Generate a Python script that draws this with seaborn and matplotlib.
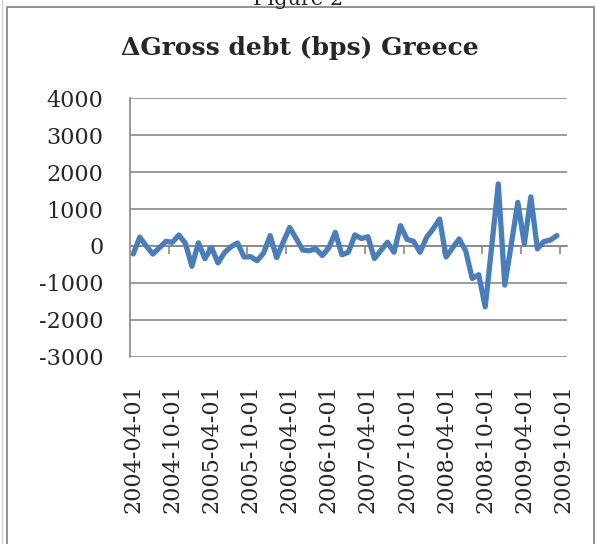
import numpy as np
import pandas as pd
import matplotlib
matplotlib.use("Agg")
import matplotlib.pyplot as plt
from matplotlib.lines import Line2D
import seaborn as sns

# Monthly categories on the horizontal axis (last month has no observation yet)
months = pd.date_range("2004-04-01", "2009-10-01", freq="MS").strftime("%Y-%m-%d").tolist()

# Month-on-month change in Greek gross debt, basis points
delta_debt = [
    -217, 240, 0, -220, -50, 125, 98, 298, 70, -550,
    85, -345, -38, -460, -180, -20, 80, -300, -290, -400,
    -190, 280, -315, 100, 500, 200, -110, -130, -75, -260,
    -50, 370, -240, -170, 300, 200, 250, -340, -120, 100,
    -170, 550, 180, 125, -170, 230, 460, 730, -300, -50,
    190, -130, -880, -780, -1650, 0, 1680, -1060, 50, 1180,
    60, 1330, -80, 120, 160, 280,
]

tick_labels = ["2004-04-01", "2004-10-01", "2005-04-01", "2005-10-01",
               "2006-04-01", "2006-10-01", "2007-04-01", "2007-10-01",
               "2008-04-01", "2008-10-01", "2009-04-01", "2009-10-01"]
y_ticks = [-3000, -2000, -1000, 0, 1000, 2000, 3000, 4000]

df = pd.DataFrame({"month": months[:len(delta_debt)], "change": delta_debt})
df["pos"] = [months.index(m) for m in df["month"]]

sns.set_style("white")
plt.rcParams["font.family"] = ["DejaVu Serif"]

grey = "#898989"
blue = "#4a7ebb"

fig = plt.figure(figsize=(5.96, 5.44), dpi=100)
ax = fig.add_axes([130 / 596, 1 - 356.7 / 544, (566.7 - 130) / 596, (356.7 - 98.3) / 544])

sns.lineplot(data=df, x="pos", y="change", ax=ax, color=blue, linewidth=3.8,
             solid_capstyle="round", solid_joinstyle="round")

ax.set_xlim(-0.5, len(months) - 0.5)
ax.set_ylim(y_ticks[0], y_ticks[-1])
ax.set_yticks(y_ticks)
ax.set_yticklabels([str(v) for v in y_ticks], fontsize=16)
ax.set_xticks([months.index(t) for t in tick_labels])
ax.set_xticklabels(tick_labels, rotation=90, fontsize=16)
ax.set_xlabel("")
ax.set_ylabel("")

ax.yaxis.grid(True, color=grey, linewidth=1.2)
ax.xaxis.grid(False)
for side in ["top", "right", "bottom"]:
    ax.spines[side].set_visible(False)
ax.spines["left"].set_color(grey)
ax.spines["left"].set_linewidth(1.2)
ax.tick_params(axis="y", direction="out", length=7, width=1.2, color=grey, pad=12)
ax.tick_params(axis="x", length=0, pad=20)

# Category axis crossing at zero, with tick marks every six months
zero_frac = (0 - y_ticks[0]) / (y_ticks[-1] - y_ticks[0])
sec = ax.secondary_xaxis(zero_frac)
sec.set_xticks([i - 0.5 for i in range(6, len(months), 6)])
sec.tick_params(direction="out", length=6, width=1.2, color=grey, labelbottom=False)
for sp in sec.spines.values():
    sp.set_color(grey)
    sp.set_linewidth(1.2)

fig.suptitle("\u0394Gross debt (bps) Greece", x=300 / 596, y=1 - 48 / 544,
             va="center", fontsize=18, fontweight="bold")
fig.text(298 / 596, 1 - 5 / 544, "Figure 2", ha="center", va="baseline", fontsize=15)

# Chart frame
fig.add_artist(Line2D([7 / 596, 7 / 596, 593.5 / 596, 593.5 / 596],
                      [0, 1 - 6.5 / 544, 1 - 6.5 / 544, 0],
                      transform=fig.transFigure, color=grey, linewidth=1.3))
fig.add_artist(Line2D([1.5 / 596, 1.5 / 596], [0, 1], transform=fig.transFigure,
                      color="#d0d0d0", linewidth=1.0))

fig.savefig("out.png", dpi=100)
